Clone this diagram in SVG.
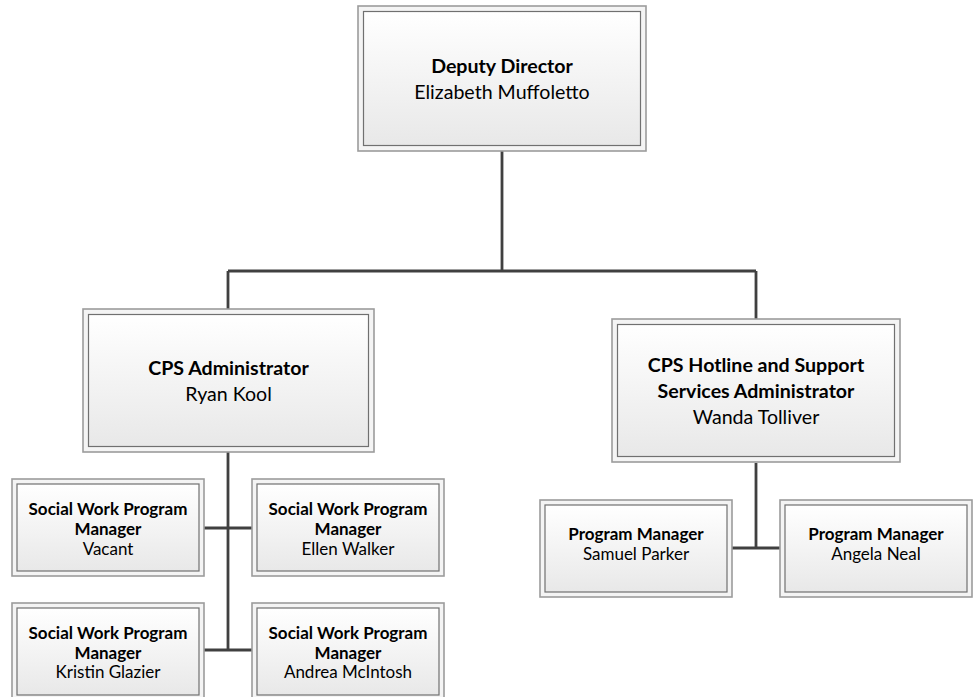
<svg xmlns="http://www.w3.org/2000/svg" width="973" height="697" viewBox="0 0 973 697">
  <defs>
    <linearGradient id="boxFill" x1="0" y1="0" x2="0" y2="1">
      <stop offset="0" stop-color="#ffffff"/>
      <stop offset="1" stop-color="#e8e8e8"/>
    </linearGradient>
    <style>
      .outer { fill: #f4f4f4; stroke: #9c9c9c; stroke-width: 1.6; }
      .inner { fill: url(#boxFill); stroke: #707070; stroke-width: 1.2; }
      .conn { fill: none; stroke: #404040; stroke-width: 2.8; }
      text { font-family: Lato, "Liberation Sans", sans-serif; fill: #000; text-anchor: middle; }
      .lt { font-size: 19.6px; }
      .st { font-size: 17px; }
      .b { font-weight: bold; }
    </style>
  </defs>

  <rect width="973" height="697" fill="#ffffff"/>

  <!-- connectors -->
  <g id="connectors">
    <path class="conn" d="M502 151 V271 M228 271 H756 M228 271 V309 M756 271 V319"/>
    <path class="conn" d="M228 452 V650 M204 528 H252 M204 650 H252"/>
    <path class="conn" d="M756 463 V548 M732 548 H780"/>
  </g>

  <!-- Deputy Director -->
  <g id="deputy-director">
    <rect class="outer" x="358" y="6" width="288" height="145"/>
    <rect class="inner" x="363.5" y="11.5" width="277" height="134"/>
    <text class="lt b" x="502" y="73">Deputy Director</text>
    <text class="lt" x="502" y="99">Elizabeth Muffoletto</text>
  </g>

  <!-- CPS Administrator -->
  <g id="cps-administrator">
    <rect class="outer" x="83" y="309" width="291" height="143"/>
    <rect class="inner" x="88.5" y="314.5" width="280" height="132"/>
    <text class="lt b" x="228.5" y="375">CPS Administrator</text>
    <text class="lt" x="228.5" y="401">Ryan Kool</text>
  </g>

  <!-- CPS Hotline and Support Services Administrator -->
  <g id="cps-hotline-administrator">
    <rect class="outer" x="612" y="319" width="288" height="143"/>
    <rect class="inner" x="617.5" y="324.5" width="277" height="132"/>
    <text class="lt b" x="756" y="372">CPS Hotline and Support</text>
    <text class="lt b" x="756" y="398">Services Administrator</text>
    <text class="lt" x="756" y="424">Wanda Tolliver</text>
  </g>

  <!-- Social Work Program Managers -->
  <g id="swpm-vacant">
    <rect class="outer" x="12" y="479" width="192" height="97"/>
    <rect class="inner" x="17" y="484" width="182" height="87"/>
    <text class="st b" x="108" y="515">Social Work Program</text>
    <text class="st b" x="108" y="535">Manager</text>
    <text class="st" x="108" y="555">Vacant</text>
  </g>

  <g id="swpm-ellen-walker">
    <rect class="outer" x="252" y="479" width="192" height="97"/>
    <rect class="inner" x="257" y="484" width="182" height="87"/>
    <text class="st b" x="348" y="515">Social Work Program</text>
    <text class="st b" x="348" y="535">Manager</text>
    <text class="st" x="348" y="555">Ellen Walker</text>
  </g>

  <g id="swpm-kristin-glazier">
    <rect class="outer" x="12" y="603" width="192" height="97"/>
    <rect class="inner" x="17" y="608" width="182" height="87"/>
    <text class="st b" x="108" y="639">Social Work Program</text>
    <text class="st b" x="108" y="659">Manager</text>
    <text class="st" x="108" y="678">Kristin Glazier</text>
  </g>

  <g id="swpm-andrea-mcintosh">
    <rect class="outer" x="252" y="603" width="192" height="97"/>
    <rect class="inner" x="257" y="608" width="182" height="87"/>
    <text class="st b" x="348" y="639">Social Work Program</text>
    <text class="st b" x="348" y="659">Manager</text>
    <text class="st" x="348" y="678">Andrea McIntosh</text>
  </g>

  <!-- Hotline program managers -->
  <g id="pm-samuel-parker">
    <rect class="outer" x="540" y="500" width="192" height="97"/>
    <rect class="inner" x="545" y="505" width="182" height="87"/>
    <text class="st b" x="636" y="540">Program Manager</text>
    <text class="st" x="636" y="560">Samuel Parker</text>
  </g>

  <g id="pm-angela-neal">
    <rect class="outer" x="780" y="500" width="192" height="97"/>
    <rect class="inner" x="785" y="505" width="182" height="87"/>
    <text class="st b" x="876" y="540">Program Manager</text>
    <text class="st" x="876" y="560">Angela Neal</text>
  </g>
</svg>
